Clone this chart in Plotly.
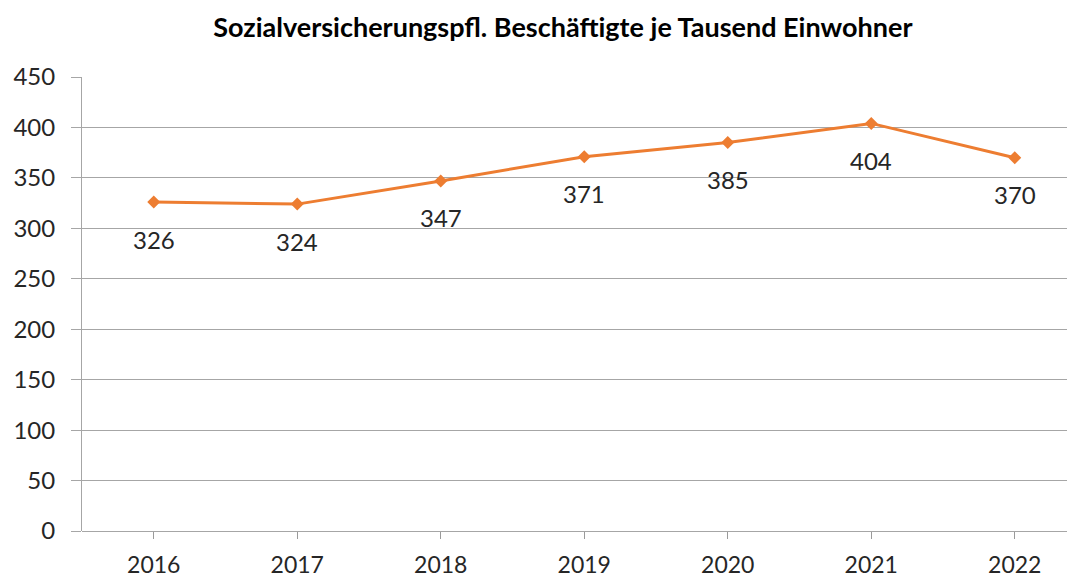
import plotly.graph_objects as go

years = ["2016", "2017", "2018", "2019", "2020", "2021", "2022"]
values = [326, 324, 347, 371, 385, 404, 370]
y_ticks = [0, 50, 100, 150, 200, 250, 300, 350, 400, 450]

orange = "#ED7D31"
font_family = "Lato, 'Open Sans', sans-serif"
text_color = "#262626"

fig = go.Figure()
fig.add_trace(go.Scatter(
    x=list(range(len(years))), y=values, mode="lines+markers",
    line=dict(color=orange, width=3),
    marker=dict(symbol="diamond", size=10, color=orange),
    hoverinfo="skip", showlegend=False,
))

for i, v in enumerate(values):
    fig.add_annotation(x=i, y=v, text=str(v), showarrow=False, yshift=-37,
                       font=dict(size=24, color=text_color, family=font_family))

fig.update_layout(
    width=1067, height=570,
    margin=dict(l=74, r=0, t=69, b=47, autoexpand=False),
    paper_bgcolor="white", plot_bgcolor="white",
    title=dict(text="<b>Sozialversicherungspfl. Beschäftigte je Tausend Einwohner</b>",
               x=0.52, xanchor="center", y=0.965, yanchor="middle",
               font=dict(size=27, color="black", family=font_family)),
)
fig.update_xaxes(
    automargin=False,
    range=[-0.5, 6.42], tickmode="array", tickvals=list(range(len(years))), ticktext=years,
    showgrid=False, zeroline=False, showline=False,
    ticks="outside", tickson="boundaries", ticklen=7, tickcolor="#9a9a9a",
    tickfont=dict(size=23, color=text_color, family=font_family), ticklabelstandoff=6,
)
fig.update_yaxes(
    automargin=False,
    range=[0, 450], tickvals=y_ticks, showgrid=True, gridcolor="#a6a6a6", gridwidth=1,
    zeroline=True, zerolinecolor="#a6a6a6", zerolinewidth=1,
    showline=True, linecolor="#a6a6a6", linewidth=1,
    ticks="outside", ticklen=10, tickcolor="#a6a6a6",
    tickfont=dict(size=24, color=text_color, family=font_family), ticklabelstandoff=11,
)

fig.write_html("out.html")
